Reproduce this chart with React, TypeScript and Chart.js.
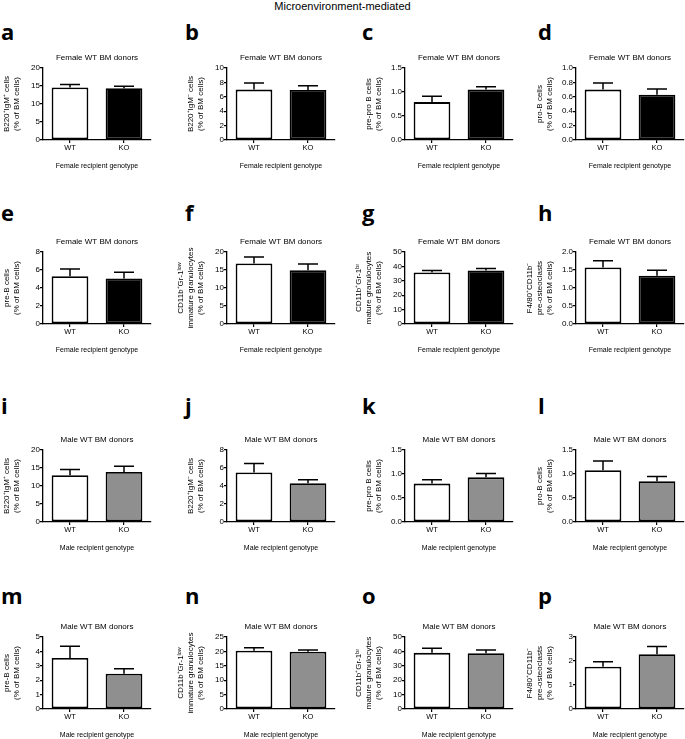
import React, { useEffect, useRef } from 'react';
import { Chart, registerables } from 'chart.js';

Chart.register(...registerables);

// ---------------- data ----------------
const mainTitle = 'Microenvironment-mediated';
const panelLetters = ['a', 'b', 'c', 'd', 'e', 'f', 'g', 'h', 'i', 'j', 'k', 'l', 'm', 'n', 'o', 'p'];
const categories = ['WT', 'KO'];
const wtMean = [14.6, 7.0, 0.79, 0.7, 5.3, 16.8, 35.8, 1.57, 13.0, 5.5, 0.8, 1.08, 3.55, 20.2, 39.0, 1.76];
const wtSem = [0.85, 0.9, 0.12, 0.09, 0.8, 1.8, 1.3, 0.19, 1.6, 1.0, 0.08, 0.19, 0.8, 1.1, 3.2, 0.21];
const koMean = [14.4, 6.95, 1.05, 0.63, 5.05, 14.9, 37.2, 1.34, 13.9, 4.3, 0.93, 0.85, 2.45, 19.9, 38.8, 2.28];
const koSem = [0.5, 0.6, 0.06, 0.08, 0.7, 1.8, 1.3, 0.15, 1.6, 0.4, 0.08, 0.1, 0.35, 0.6, 2.2, 0.32];
const yMax = [20, 10, 1.5, 1.0, 8, 20, 50, 2.0, 20, 8, 1.5, 1.5, 5, 25, 50, 3];
const yStep = [5, 2, 0.5, 0.2, 2, 5, 10, 0.5, 5, 2, 0.5, 0.5, 1, 5, 10, 1];
const yDecimals = [0, 0, 1, 1, 0, 0, 0, 1, 0, 0, 1, 1, 0, 0, 0, 0];
const yTitleSet = [
  ['B220⁺IgM⁺ cells', '(% of BM cells)'],
  ['B220⁺IgM⁻ cells', '(% of BM cells)'],
  ['pre-pro B cells', '(% of BM cells)'],
  ['pro-B cells', '(% of BM cells)'],
  ['pre-B cells', '(% of BM cells)'],
  ['CD11b⁺Gr-1ˡᵒʷ', 'immature granulocytes', '(% of BM cells)'],
  ['CD11b⁺Gr-1ᵇʳ', 'mature granulocytes', '(% of BM cells)'],
  ['F4/80⁺CD11b⁻', 'pre-osteoclasts', '(% of BM cells)'],
];
const donorTitles = ['Female WT BM donors', 'Male WT BM donors'];
const recipientTitles = ['Female recipient genotype', 'Male recipient genotype'];
const koColors = ['#000000', '#8f8f8f'];
const wtColor = '#ffffff';

// ---------------- layout ----------------
const FONT = '"Liberation Sans", Arial, Helvetica, sans-serif';
const colAxisX = [43, 227, 405, 576];
const rowPlotTop = [68, 252, 450, 637];
const letterX = [1, 185, 362, 538];
const letterBaseline = [39, 220, 413, 603];
const PLOT_W = 108;
const PLOT_H = 72;
const Y_W = 55;
const TOP_H = 22;
const X_H = 34;
const RIGHT_PAD = 8;
const CANVAS_W = Y_W + PLOT_W + RIGHT_PAD;
const CANVAS_H = TOP_H + PLOT_H + X_H;

const errorBarPlugin = {
  id: 'errorBars',
  afterDatasetsDraw(chart: any) {
    const meta = chart.getDatasetMeta(0);
    const ds = chart.data.datasets[0];
    const yScale = chart.scales.y;
    const ctx = chart.ctx;
    ctx.save();
    ctx.strokeStyle = '#000';
    ctx.lineWidth = 1.5;
    meta.data.forEach((bar: any, i: number) => {
      const topPx = yScale.getPixelForValue(ds.data[i] + ds.errors[i]);
      ctx.beginPath();
      ctx.moveTo(bar.x, bar.y);
      ctx.lineTo(bar.x, topPx);
      ctx.moveTo(bar.x - 10, topPx);
      ctx.lineTo(bar.x + 10, topPx);
      ctx.stroke();
    });
    ctx.restore();
  },
};

function Panel({ idx }: { idx: number }) {
  const ref = useRef<HTMLCanvasElement | null>(null);
  const row = Math.floor(idx / 4);
  const col = idx % 4;
  const male = row >= 2 ? 1 : 0;
  const yTitle = yTitleSet[idx % 8];

  useEffect(() => {
    if (!ref.current) return;
    const nLines = yTitle.length;
    const lh = 10;
    const lastCenter = Y_W - 26;
    const yTitlePadTop = lastCenter - lh / 2 - (nLines - 1) * lh;
    const chart = new Chart(ref.current, {
      type: 'bar',
      data: {
        labels: categories,
        datasets: [
          {
            data: [wtMean[idx], koMean[idx]],
            errors: [wtSem[idx], koSem[idx]],
            backgroundColor: [wtColor, koColors[male]],
            borderColor: '#000',
            borderWidth: 1.8,
            borderSkipped: false,
            barPercentage: 0.68,
            categoryPercentage: 1,
          } as any,
        ],
      },
      options: {
        responsive: false,
        maintainAspectRatio: false,
        devicePixelRatio: 1,
        animation: false,
        layout: { padding: { left: 0, top: 0, right: RIGHT_PAD, bottom: 0 } },
        plugins: {
          legend: { display: false },
          tooltip: { enabled: false },
          title: {
            display: true,
            text: donorTitles[male],
            color: '#000',
            font: { family: FONT, size: 8, weight: 'normal', lineHeight: 1.2 },
            padding: { top: 7.2, bottom: 5.2 },
            fullSize: false,
          } as any,
        },
        scales: {
          x: {
            type: 'category',
            offset: true,
            grid: { display: true, drawOnChartArea: false, drawTicks: true, tickLength: 3, offset: false, color: '#000', lineWidth: 1.2 },
            border: { display: true, color: '#000', width: 1.3 },
            ticks: { color: '#000', padding: 0, font: { family: FONT, size: 7.5 } },
            title: {
              display: true,
              text: recipientTitles[male],
              color: '#000',
              font: { family: FONT, size: 7, lineHeight: 1.2 },
              padding: { top: 0, bottom: 3.8 },
            },
            afterFit: (s: any) => {
              s.height = X_H;
            },
          },
          y: {
            min: 0,
            max: yMax[idx],
            grid: { display: true, drawOnChartArea: false, drawTicks: true, tickLength: 3, color: '#000', lineWidth: 1.2 },
            border: { display: true, color: '#000', width: 1.3 },
            ticks: {
              stepSize: yStep[idx],
              color: '#000',
              padding: 0,
              font: { family: FONT, size: 8 },
              callback: (v: any) => Number(v).toFixed(yDecimals[idx]),
            },
            title: {
              display: true,
              text: yTitle,
              color: '#000',
              font: { family: FONT, size: 8, lineHeight: lh / 8 },
              padding: { top: yTitlePadTop, bottom: 0 },
            },
            afterFit: (s: any) => {
              s.width = Y_W;
            },
          },
        },
      } as any,
      plugins: [errorBarPlugin],
    });
    return () => chart.destroy();
  }, [idx]);

  return (
    <>
      <div
        style={{
          position: 'absolute',
          left: letterX[col],
          top: letterBaseline[row] - 19.5,
          fontFamily: '"Open Sans", "DejaVu Sans", sans-serif',
          fontWeight: 700,
          fontSize: 22,
          lineHeight: '22px',
          color: '#000',
        }}
      >
        {panelLetters[idx]}
      </div>
      <canvas
        ref={ref}
        width={CANVAS_W}
        height={CANVAS_H}
        style={{
          position: 'absolute',
          left: colAxisX[col] - Y_W,
          top: rowPlotTop[row] - TOP_H,
          width: CANVAS_W,
          height: CANVAS_H,
        }}
      />
    </>
  );
}

export default function App() {
  return (
    <div
      style={{
        position: 'absolute',
        left: 0,
        top: 0,
        width: 685,
        height: 739,
        overflow: 'hidden',
        background: '#fff',
      }}
    >
      <div
        style={{
          position: 'absolute',
          left: 0,
          top: 0,
          width: 685,
          textAlign: 'center',
          fontFamily: FONT,
          fontSize: 11,
          lineHeight: '12px',
          color: '#000',
        }}
      >
        {mainTitle}
      </div>
      {panelLetters.map((_, i) => (
        <Panel key={i} idx={i} />
      ))}
    </div>
  );
}
